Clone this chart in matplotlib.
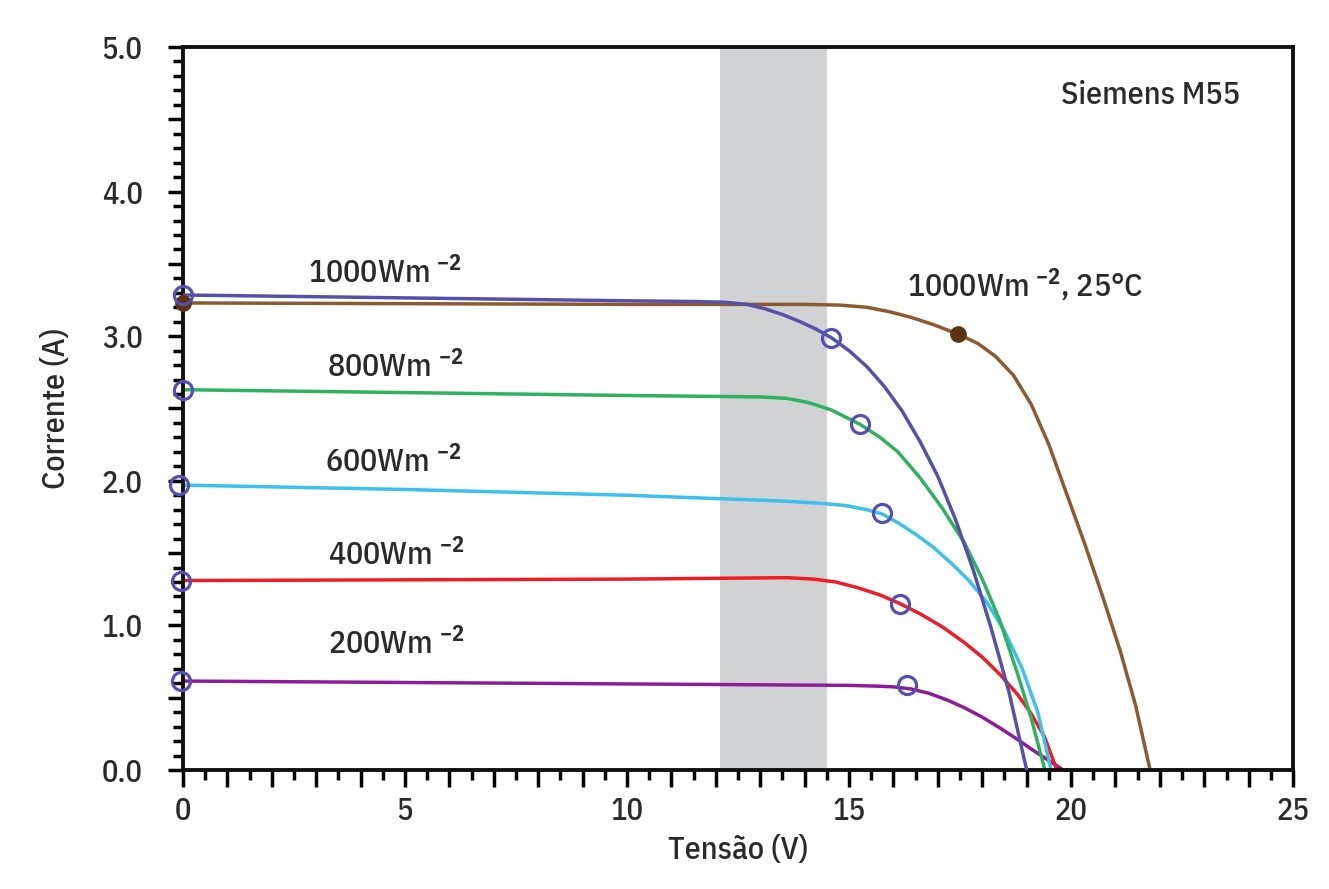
import matplotlib
matplotlib.use("Agg")
import matplotlib.pyplot as plt
from matplotlib.ticker import MultipleLocator, FuncFormatter

FONT = 'IBM Plex Sans Condensed'
plt.rcParams['font.family'] = [FONT, 'DejaVu Sans']
plt.rcParams['font.weight'] = 'medium'
plt.rcParams['axes.labelweight'] = 'medium'
plt.rcParams['mathtext.fontset'] = 'custom'
plt.rcParams['mathtext.rm'] = FONT + ':medium'
plt.rcParams['mathtext.bf'] = FONT + ':bold'

# ---- data ----
v_1000 = [0, 5, 10, 11.5, 12.2, 12.7, 13.1, 13.5, 13.9, 14.25, 14.6, 15.0, 15.4, 15.8, 16.2, 16.6, 17.0, 17.4, 17.8, 18.2, 18.6, 19.0]
i_1000 = [3.285, 3.265, 3.245, 3.24, 3.235, 3.22, 3.19, 3.15, 3.10, 3.05, 2.99, 2.90, 2.79, 2.65, 2.48, 2.27, 2.03, 1.73, 1.38, 0.98, 0.54, 0.0]

v_25c = [0, 5, 10, 14.0, 14.8, 15.4, 15.9, 16.4, 16.9, 17.45, 17.9, 18.3, 18.7, 19.1, 19.5, 19.9, 20.3, 20.7, 21.1, 21.45, 21.78]
i_25c = [3.23, 3.225, 3.22, 3.22, 3.215, 3.20, 3.17, 3.13, 3.08, 3.015, 2.95, 2.86, 2.73, 2.53, 2.25, 1.91, 1.57, 1.21, 0.83, 0.45, 0.0]

v_800 = [0, 5, 10, 13.0, 13.6, 14.1, 14.6, 15.25, 15.7, 16.1, 16.6, 17.1, 17.6, 18.0, 18.4, 18.8, 19.1, 19.41]
i_800 = [2.63, 2.61, 2.59, 2.58, 2.57, 2.54, 2.49, 2.39, 2.30, 2.20, 2.02, 1.81, 1.57, 1.32, 1.03, 0.66, 0.36, 0.0]

v_600 = [0, 5, 10, 13.5, 14.3, 14.9, 15.4, 15.75, 16.1, 16.5, 16.9, 17.3, 17.7, 18.1, 18.5, 18.9, 19.25, 19.55]
i_600 = [1.97, 1.94, 1.90, 1.86, 1.845, 1.83, 1.80, 1.77, 1.71, 1.63, 1.54, 1.43, 1.31, 1.16, 0.96, 0.70, 0.40, 0.0]

v_400 = [0, 5, 10, 13.6, 14.2, 14.7, 15.2, 15.7, 16.15, 16.6, 17.1, 17.6, 18.0, 18.4, 18.8, 19.1, 19.4, 19.68]
i_400 = [1.31, 1.315, 1.32, 1.33, 1.32, 1.30, 1.26, 1.21, 1.15, 1.08, 0.99, 0.88, 0.78, 0.66, 0.52, 0.39, 0.23, 0.0]

v_200 = [0, 5, 10, 15.0, 15.6, 16.0, 16.4, 16.8, 17.2, 17.6, 18.0, 18.4, 18.8, 19.1, 19.45, 19.82]
i_200 = [0.615, 0.605, 0.595, 0.585, 0.58, 0.575, 0.56, 0.53, 0.485, 0.43, 0.365, 0.29, 0.21, 0.145, 0.075, 0.0]

# maximum-power points (open circles) and short-circuit points
mpp_v = [14.6, 15.25, 15.75, 16.15, 16.3]
mpp_i = [2.99, 2.39, 1.78, 1.15, 0.59]
isc_v = [0.0, 0.0, -0.1, -0.05, -0.05]
isc_i = [3.285, 2.63, 1.97, 1.31, 0.615]
mpp_25c_v = [0.0, 17.45]
mpp_25c_i = [3.23, 3.015]

band = (12.1, 14.5)

labels = ["1000Wm $^{\\mathbf{-2}}$", "800Wm $^{\\mathbf{-2}}$", "600Wm $^{\\mathbf{-2}}$",
          "400Wm $^{\\mathbf{-2}}$", "200Wm $^{\\mathbf{-2}}$"]
label_v = [4.55, 4.77, 4.73, 4.8, 4.8]
label_i = [3.44, 2.79, 2.13, 1.49, 0.87]
label_25c = "1000Wm $^{\\mathbf{-2}}$, 25°C"
title_txt = "Siemens M55"

# ---- styling ----
c_1000 = '#5550a8'
c_25c = '#8c5a30'
c_800 = '#2db35f'
c_600 = '#3cc0ee'
c_400 = '#ee1c25'
c_200 = '#8a1e98'
c_circle = '#5550b0'
c_dot = '#5c3310'
txt = '#2a2a2a'

fig = plt.figure(figsize=(13.29, 8.89), dpi=100)
ax = fig.add_axes([0.1377, 0.1339, 0.8353, 0.8132])

ax.axvspan(band[0], band[1], color='#d1d2d4', zorder=0, lw=0)

lw = 2.5
ax.plot(v_200, i_200, color=c_200, lw=lw, zorder=2)
ax.plot(v_400, i_400, color=c_400, lw=lw, zorder=2)
ax.plot(v_600, i_600, color=c_600, lw=lw, zorder=2)
ax.plot(v_800, i_800, color=c_800, lw=lw, zorder=2)
ax.plot(v_25c, i_25c, color=c_25c, lw=lw, zorder=2)
ax.plot(v_1000, i_1000, color=c_1000, lw=lw, zorder=3)

ax.plot(mpp_25c_v, mpp_25c_i, 'o', color=c_dot, ms=11, zorder=4, clip_on=False)
ax.plot(mpp_v, mpp_i, 'o', mfc='none', mec=c_circle, mew=2.3, ms=13, zorder=5)
ax.plot(isc_v, isc_i, 'o', mfc='none', mec=c_circle, mew=2.3, ms=13, zorder=5, clip_on=False)

for s, x, y in zip(labels, label_v, label_i):
    ax.text(x, y, s, fontsize=23, color=txt, ha='center', va='center')
ax.text(18.96, 3.35, label_25c, fontsize=23, color=txt, ha='center', va='center')
ax.text(21.8, 4.67, title_txt, fontsize=23, color=txt, ha='center', va='center')

ax.set_xlim(0, 25)
ax.set_ylim(0, 5)

for sp in ax.spines.values():
    sp.set_linewidth(2.8)
    sp.set_color('#111111')

ax.xaxis.set_major_locator(MultipleLocator(1))
ax.xaxis.set_minor_locator(MultipleLocator(0.5))
ax.xaxis.set_major_formatter(FuncFormatter(lambda v, p: f"{v:.0f}" if abs(v % 5) < 1e-6 else ""))
ax.yaxis.set_major_locator(MultipleLocator(0.5))
ax.yaxis.set_minor_locator(MultipleLocator(0.1))
ax.yaxis.set_major_formatter(FuncFormatter(lambda v, p: f"{v:.1f}" if abs(v % 1) < 1e-6 else ""))

ax.tick_params(axis='x', which='major', direction='out', length=12, width=2.5, pad=7,
               labelsize=22, labelcolor=txt)
ax.tick_params(axis='x', which='minor', direction='out', length=7, width=2.5)
ax.tick_params(axis='y', which='major', direction='out', length=11, width=2.5, pad=18,
               labelsize=22, labelcolor=txt)
ax.tick_params(axis='y', which='minor', direction='out', length=7, width=2.5)

ax.set_xlabel("Tensão (V)", fontsize=23, fontweight='medium', color=txt, labelpad=6)
ax.set_ylabel("Corrente (A)", fontsize=23, fontweight='medium', color=txt, labelpad=22)

fig.savefig("out.png", dpi=100, facecolor='white')
